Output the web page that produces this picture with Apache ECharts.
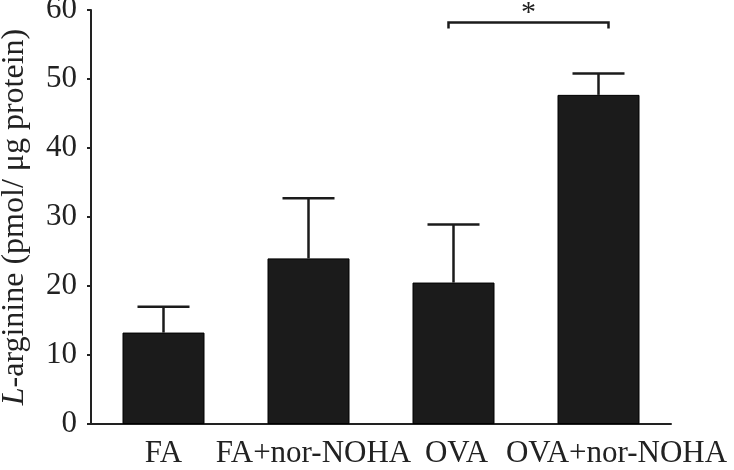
<!DOCTYPE html>
<html>
<head>
<meta charset="utf-8">
<script src="https://cdn.jsdelivr.net/npm/echarts@6/dist/echarts.min.js"></script>
<style>
  html, body { margin: 0; padding: 0; background: #fff; }
  #chart { width: 734px; height: 470px; }
</style>
</head>
<body>
<div id="chart"></div>
<script>
// groups and values (mean +/- SEM)
const groups = ['FA', 'FA+nor-NOHA', 'OVA', 'OVA+nor-NOHA']
const means = [13.25, 24.0, 20.5, 47.7]
const sems = [3.75, 8.7, 8.4, 3.1]
const yTicks = [0, 10, 20, 30, 40, 50, 60]
// significance: OVA vs OVA+nor-NOHA
const sigPairs = [[2, 3]]
const sigLevel = [58.2]
const sigMark = ['*']

const font = 'Liberation Serif'
const ink = '#222'
// small nudges so the long labels don't run into each other (as in the figure)
const labelShift = [0, 10, 6, 36]

let chart = echarts.init(document.getElementById('chart'))

let errData = groups.map((g, i) => [i, means[i], means[i] + sems[i]])
let sigData = sigPairs.map((p, i) => [p[0], p[1], sigLevel[i]])

chart.setOption({
  animation: false,
  grid: { left: 91, right: 63, top: 10, bottom: 46, outerBoundsMode: 'none', containLabel: false },
  xAxis: {
    type: 'category',
    data: groups.map((g, i) => ({ value: g, textStyle: { padding: [0, 0, 0, labelShift[i]] } })),
    axisLine: { lineStyle: { color: ink, width: 2 } },
    axisTick: { alignWithLabel: true, length: 8, lineStyle: { color: ink, width: 2 } },
    axisLabel: { interval: 0, margin: 14, color: ink, fontFamily: font, fontSize: 31 }
  },
  yAxis: {
    type: 'value',
    min: yTicks[0],
    max: yTicks[yTicks.length - 1],
    interval: 10,
    name: '{i|L}-arginine (pmol/ μg protein)',
    nameLocation: 'middle',
    nameGap: 60,
    nameTextStyle: {
      color: ink, fontFamily: font, fontSize: 32,
      rich: { i: { fontStyle: 'italic', color: ink, fontFamily: font, fontSize: 32 } }
    },
    axisLine: { show: true, lineStyle: { color: ink, width: 2 } },
    axisTick: { show: true, length: 4, lineStyle: { color: ink, width: 2 } },
    axisLabel: { margin: 14, color: ink, fontFamily: font, fontSize: 31 },
    splitLine: { show: false }
  },
  series: [
    {
      type: 'bar',
      data: means,
      barWidth: 82,
      itemStyle: { color: '#1b1b1b', borderColor: '#000', borderWidth: 1 }
    },
    {
      // error bars (upper only)
      type: 'custom',
      data: errData,
      z: 1,
      renderItem: function (params, api) {
        let base = api.coord([api.value(0), api.value(1)])
        let top = api.coord([api.value(0), api.value(2)])
        let half = 26
        return {
          type: 'group',
          children: [
            { type: 'line', shape: { x1: base[0], y1: base[1], x2: top[0], y2: top[1] },
              style: { stroke: '#1b1b1b', lineWidth: 2.5 } },
            { type: 'line', shape: { x1: top[0] - half, y1: top[1], x2: top[0] + half, y2: top[1] },
              style: { stroke: '#1b1b1b', lineWidth: 2.5 } }
          ]
        }
      }
    },
    {
      // significance bracket
      type: 'custom',
      data: sigData,
      clip: false,
      renderItem: function (params, api) {
        let a = api.coord([api.value(0), api.value(2)])
        let b = api.coord([api.value(1), api.value(2)])
        let x1 = a[0] - 5, x2 = b[0] + 10, y = a[1], drop = 6
        return {
          type: 'group',
          children: [
            { type: 'polyline', shape: { points: [[x1, y + drop], [x1, y], [x2, y], [x2, y + drop]] },
              style: { stroke: '#1b1b1b', lineWidth: 2.5, fill: null } },
            { type: 'text', x: (x1 + x2) / 2, y: y - 9,
              style: { text: sigMark[params.dataIndex], font: '30px "' + font + '"', fill: ink,
                       align: 'center', verticalAlign: 'middle' } }
          ]
        }
      }
    }
  ]
})
</script>
</body>
</html>
